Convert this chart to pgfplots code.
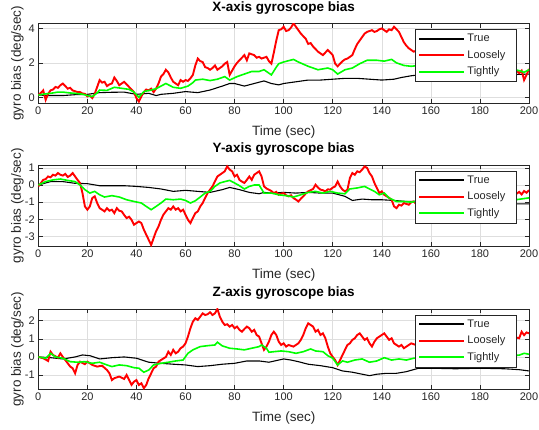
\documentclass[border=0pt]{standalone}
\usepackage{pgfplots}
\pgfplotsset{compat=1.18}
\usepackage{pgfplotstable}
\usepackage{fontspec}
\setmainfont{Liberation Sans}

\definecolor{axgray}{RGB}{38,38,38}
\definecolor{gridgray}{RGB}{222,222,222}
\definecolor{mred}{RGB}{255,0,0}
\definecolor{mgreen}{RGB}{0,255,0}

% ---------------- X axis ----------------
\pgfplotstableread{
t v
0 0.13
1 0.25
2 0.40
3 -0.15
4 0.20
5 0.40
6 0.45
7 0.60
8 0.55
9 0.70
10 0.80
11 0.65
12 0.50
13 0.55
14 0.40
15 0.35
16 0.30
17 0.30
18 0.22
19 0.20
20 0.05
21 0.10
22 -0.05
23 0.20
24 0.60
25 1.00
26 0.85
27 0.90
28 0.65
29 0.75
30 0.80
31 1.15
32 0.95
33 0.70
34 0.80
35 0.90
36 0.75
37 0.60
38 0.45
39 0.30
40 -0.05
41 -0.25
42 0.05
43 0.30
44 0.45
45 0.40
46 0.50
47 0.30
48 0.50
49 0.80
50 1.20
51 1.35
52 1.60
53 1.45
54 1.15
55 0.90
56 0.80
57 0.70
58 1.00
59 0.90
60 1.00
61 0.95
62 1.10
63 1.30
64 1.85
65 2.25
66 2.10
67 2.05
68 1.75
69 1.70
70 1.60
71 1.70
72 1.85
73 1.60
74 1.70
75 1.80
76 1.95
77 2.05
78 1.30
79 1.55
80 1.80
81 2.00
82 2.15
83 2.30
84 2.45
85 2.15
86 2.55
87 2.50
88 2.45
89 2.30
90 2.35
91 2.25
92 2.30
93 2.35
94 2.10
95 1.95
96 2.60
97 3.30
98 3.90
99 3.95
100 4.10
101 3.85
102 3.90
103 4.05
104 4.30
105 4.10
106 3.90
107 3.70
108 3.55
109 3.40
110 3.10
111 3.15
112 2.95
113 2.80
114 2.65
115 2.55
116 2.45
117 2.60
118 2.75
119 2.60
120 2.45
121 1.95
122 1.80
123 1.95
124 2.10
125 2.20
126 2.25
127 2.35
128 2.45
129 2.80
130 3.10
131 3.30
132 3.50
133 3.70
134 3.80
135 3.85
136 3.90
137 3.80
138 3.85
139 3.95
140 4.00
141 3.90
142 3.80
143 3.95
144 3.90
145 4.10
146 3.95
147 3.80
148 3.50
149 3.20
150 3.00
151 2.85
152 2.75
153 2.65
154 2.70
155 2.75
158 2.90
161 2.60
164 3.00
167 2.70
170 2.40
174 2.70
178 2.30
182 2.50
186 2.00
190 1.80
193 1.60
195 1.55
196 1.40
197 1.55
198 1.00
199 1.30
200 1.65
}\xloose

\pgfplotstableread{
t v
0 0.13
2 0.18
5 0.23
8 0.30
10 0.30
13 0.25
15 0.23
18 0.18
20 0.10
22 0.04
24 0.25
25 0.42
28 0.40
31 0.58
34 0.52
37 0.46
39 0.30
41 0.00
43 0.33
46 0.42
48 0.50
50 0.65
52 0.80
55 0.58
58 0.52
61 0.65
63 0.85
64 1.00
67 1.05
70 0.97
73 1.05
76 1.20
78 1.00
81 1.20
84 1.35
87 1.50
90 1.50
92 1.60
95 1.30
97 1.75
98 1.95
100 2.05
104 2.20
106 2.05
110 1.80
114 1.60
118 1.70
120 1.60
122 1.35
125 1.60
128 1.70
131 1.95
134 2.15
138 2.15
141 2.10
144 2.20
146 2.00
149 1.85
152 1.80
155 1.85
160 1.95
165 2.05
170 1.90
175 1.95
180 1.80
185 1.75
190 1.65
194 1.60
196 1.55
198 1.45
200 1.60
}\xtight

\pgfplotstableread{
t v
0 0.13
5 0.10
10 0.10
15 0.15
20 0.17
25 0.27
30 0.29
35 0.30
40 0.17
45 0.23
48 0.10
50 0.17
55 0.23
60 0.33
65 0.27
70 0.42
75 0.65
78 0.80
80 0.80
84 0.65
88 0.80
92 0.95
95 0.80
98 0.72
100 0.80
105 0.90
110 1.00
115 1.00
120 1.05
125 1.10
130 1.10
135 1.05
140 1.00
145 1.05
148 1.15
152 1.25
155 1.30
160 1.25
170 1.30
180 1.35
190 1.30
200 1.35
}\xtrue

% ---------------- Y axis ----------------
\pgfplotstableread{
t v
0 -0.08
1 0.10
2 0.30
3 0.35
4 0.50
5 0.45
6 0.60
7 0.55
8 0.70
9 0.60
10 0.55
11 0.65
12 0.47
13 0.55
14 0.70
15 0.50
16 0.30
17 0.12
18 -0.47
19 -1.25
20 -1.44
21 -1.25
22 -0.76
23 -0.66
24 -1.05
25 -1.35
26 -1.44
27 -1.54
28 -1.35
29 -1.50
30 -1.44
31 -1.64
32 -1.35
33 -1.50
34 -1.54
35 -1.75
36 -1.93
37 -1.85
38 -2.03
39 -2.32
40 -2.22
41 -2.13
42 -2.22
43 -2.60
44 -2.90
45 -3.20
46 -3.50
47 -3.10
48 -2.70
49 -2.42
50 -2.03
51 -1.73
52 -1.54
53 -1.35
54 -1.44
55 -1.25
56 -1.44
57 -1.35
58 -1.54
59 -1.44
60 -1.73
61 -2.03
62 -2.22
63 -1.93
64 -1.64
65 -1.54
66 -1.25
67 -1.05
68 -0.76
69 -0.47
70 -0.27
71 -0.08
72 0.21
73 0.50
74 0.60
75 0.70
76 0.80
77 1.09
78 0.90
79 0.80
80 0.50
81 0.60
82 0.30
83 0.20
84 0.12
85 0.30
86 0.50
87 0.30
88 0.60
89 0.70
90 0.80
91 0.50
92 -0.08
93 -0.20
94 -0.27
95 -0.35
96 -0.47
97 -0.40
98 -0.57
99 -0.50
100 -0.47
101 -0.60
102 -0.66
103 -0.60
104 -0.76
105 -0.85
106 -0.96
107 -0.80
108 -0.66
109 -0.50
110 -0.37
111 -0.30
112 -0.23
113 0.02
114 -0.15
115 -0.27
116 -0.30
117 -0.37
118 -0.25
119 -0.27
120 -0.15
121 -0.08
122 0.21
123 -0.08
124 -0.27
125 -0.37
126 -0.27
127 0.41
128 0.70
129 0.60
130 0.80
131 0.75
132 0.90
133 1.09
134 1.00
135 0.70
136 0.50
137 0.12
138 -0.17
139 -0.47
140 -0.37
141 -0.57
142 -0.66
143 -0.75
144 -0.86
145 -1.25
146 -1.35
147 -1.15
148 -1.20
149 -1.05
150 -1.10
151 -1.15
152 -1.00
153 -0.96
154 -1.10
155 -1.05
157 -1.00
160 -0.90
164 -1.10
168 -0.80
172 -0.90
176 -1.20
180 -1.00
184 -0.80
188 -0.90
192 -0.70
195 -0.50
196 -0.40
197 -0.55
198 -0.35
199 -0.45
200 -0.30
}\yloose

\pgfplotstableread{
t v
0 0.00
3 0.20
6 0.30
9 0.35
12 0.27
15 0.20
17 0.00
19 -0.27
21 -0.47
23 -0.37
25 -0.57
27 -0.70
30 -0.62
33 -0.70
36 -0.86
39 -0.96
42 -1.05
44 -1.25
46 -1.44
48 -1.25
50 -1.05
52 -0.82
55 -0.86
58 -0.82
60 -0.90
62 -1.05
64 -0.92
66 -0.70
68 -0.47
70 -0.37
72 -0.08
74 0.12
76 0.20
78 0.27
80 0.12
82 -0.04
84 -0.23
86 -0.08
88 0.00
90 0.00
92 -0.47
95 -0.47
98 -0.57
101 -0.62
104 -0.70
107 -0.57
110 -0.43
113 -0.37
116 -0.47
119 -0.37
122 -0.47
125 -0.51
127 -0.23
130 -0.17
133 -0.08
135 -0.23
137 -0.37
139 -0.57
141 -0.47
143 -0.76
146 -0.96
149 -0.96
152 -1.00
155 -0.92
160 -0.95
170 -1.00
180 -0.95
190 -0.90
195 -0.85
200 -0.75
}\ytight

\pgfplotstableread{
t v
0 0.00
5 0.20
10 0.20
15 0.10
20 0.08
25 -0.04
30 -0.04
35 -0.04
40 -0.08
45 -0.14
50 -0.23
55 -0.37
60 -0.31
65 -0.37
70 -0.43
75 -0.27
78 -0.14
82 -0.27
86 -0.43
90 -0.51
92 -0.43
95 -0.47
100 -0.43
105 -0.47
110 -0.43
115 -0.47
120 -0.47
125 -0.66
128 -0.90
132 -0.82
136 -0.86
140 -0.86
145 -0.90
150 -0.96
155 -0.96
160 -0.98
170 -1.00
180 -1.05
190 -1.10
200 -1.10
}\ytrue

% ---------------- Z axis ----------------
\pgfplotstableread{
t v
0 0.00
2 -0.07
4 -0.22
5 0.29
6 0.11
8 -0.04
9 0.20
10 0.00
11 -0.17
13 -0.53
14 -0.62
15 -0.90
16 -0.44
17 -0.26
19 -0.40
20 -0.26
22 -0.44
24 -0.53
26 -0.48
28 -0.72
29 -0.90
30 -1.27
31 -1.17
33 -1.08
35 -1.21
36 -0.99
37 -1.27
38 -1.54
39 -1.36
40 -1.27
41 -1.54
42 -1.45
43 -1.72
44 -1.54
45 -1.17
46 -0.90
47 -0.62
48 -0.53
49 -0.26
50 -0.17
52 0.00
53 0.29
54 0.11
55 0.39
56 0.20
57 0.29
58 0.48
59 0.57
60 0.75
61 1.12
62 1.58
63 1.94
64 2.13
65 2.04
66 2.22
67 2.40
68 2.31
69 2.35
70 2.46
71 2.31
72 2.40
73 2.64
74 2.22
75 1.94
76 1.76
77 1.80
78 1.67
79 1.76
80 1.58
81 1.67
82 1.49
83 1.39
84 1.54
85 1.67
86 1.58
87 1.39
88 1.49
89 1.21
90 1.12
91 0.75
92 0.39
93 0.57
94 0.84
95 1.21
96 1.39
97 1.21
98 0.84
99 0.66
100 0.75
101 0.57
102 0.66
104 0.57
106 0.75
107 0.94
108 1.21
109 1.58
110 1.85
111 1.76
112 1.67
113 1.39
114 1.49
115 1.21
116 1.30
117 1.03
118 0.57
119 0.20
120 0.00
121 -0.17
122 -0.44
123 -0.17
124 0.11
125 0.39
126 0.66
127 0.75
128 0.94
129 1.03
130 1.21
131 1.30
132 1.12
133 0.94
134 1.03
135 0.75
136 0.57
137 0.84
138 1.03
139 1.12
140 1.21
141 1.30
142 1.12
143 0.94
144 1.03
145 0.75
146 0.66
147 0.57
148 0.66
149 0.48
150 0.57
152 0.75
154 0.66
155 0.57
158 0.80
162 1.00
166 0.70
170 0.90
174 1.10
178 0.80
182 0.90
186 0.70
190 0.90
194 1.10
196 1.03
197 1.39
198 1.20
199 1.35
200 1.30
}\zloose

\pgfplotstableread{
t v
0 0.00
3 -0.07
5 0.20
7 0.00
10 -0.07
13 -0.26
16 -0.29
19 -0.26
22 -0.35
25 -0.29
28 -0.44
30 -0.53
33 -0.44
36 -0.48
39 -0.59
41 -0.62
43 -0.84
45 -0.72
47 -0.44
50 -0.35
53 -0.29
56 -0.22
59 -0.17
61 0.20
63 0.39
66 0.57
69 0.62
72 0.66
73 0.81
75 0.61
78 0.48
81 0.44
84 0.39
87 0.48
90 0.57
91 0.66
93 0.48
94 0.26
96 0.29
99 0.33
102 0.29
105 0.20
108 0.29
111 0.44
113 0.33
116 0.29
118 0.07
120 -0.07
122 -0.44
124 -0.22
126 -0.29
129 -0.17
132 -0.11
135 -0.29
138 -0.22
141 -0.04
144 -0.17
147 -0.11
150 -0.17
153 -0.07
156 -0.04
160 0.00
170 0.05
180 0.00
190 0.05
196 0.10
198 0.20
200 0.15
}\ztight

\pgfplotstableread{
t v
0 0.00
5 -0.04
10 -0.11
15 0.00
18 0.11
21 0.07
25 -0.11
30 -0.04
35 0.00
40 -0.07
45 -0.29
50 -0.35
55 -0.40
60 -0.44
65 -0.53
70 -0.48
75 -0.40
80 -0.35
85 -0.22
90 -0.22
94 -0.29
98 -0.17
100 -0.11
103 -0.17
106 -0.26
110 -0.40
115 -0.48
120 -0.59
124 -0.77
128 -0.84
132 -0.95
135 -1.03
138 -0.95
142 -0.90
146 -0.90
150 -0.81
155 -0.62
160 -0.62
170 -0.65
180 -0.62
190 -0.65
196 -0.70
200 -0.77
}\ztrue

\pgfplotsset{
  biasplot/.style={
    scale only axis, width=490.7pt, anchor=south west,
    xmin=0, xmax=200, xtick={0,20,...,200},
    grid=major, major grid style={gridgray, line width=0.5pt},
    axis line style={axgray, line width=0.5pt},
    tick style={axgray, line width=0.5pt},
    major tick length=4.5pt,
    tick label style={font=\fontsize{11}{13}\selectfont, text=axgray},
    /pgf/number format/assume math mode=true,
    xlabel={Time (sec)}, ylabel={gyro bias (deg/sec)},
    xlabel style={font=\fontsize{13.5}{15}\selectfont, text=axgray,
      at={([yshift=-28.5pt]rel axis cs:0.5,0)}, anchor=center},
    ylabel style={font=\fontsize{13.5}{15}\selectfont, text=axgray,
      at={([xshift=-21pt]rel axis cs:0,0.5)}, anchor=center},
    title style={font=\bfseries\fontsize{13.5}{15}\selectfont, text=black,
      at={([yshift=6pt]rel axis cs:0.5,1)}, anchor=base},
    legend cell align=left,
    legend style={at={(rel axis cs:1,1)}, anchor=north east,
      xshift=-12.3pt, yshift=-5.7pt, draw=axgray, line width=0.5pt,
      fill=white, font=\fontsize{11}{13}\selectfont, text=axgray,
      row sep=3pt, inner ysep=3pt},
    legend image code/.code={\draw[##1, line width=2pt] (0pt,0pt) -- (45pt,0pt);},
  },
  truth/.style={black, line width=1.1pt},
  loose/.style={mred, line width=1.9pt},
  tight/.style={mgreen, line width=1.6pt},
}

\newcommand{\biaslegend}{\legend{\makebox[44pt][l]{True},\makebox[44pt][l]{Loosely},\makebox[44pt][l]{Tightly}}}

\begin{document}
\begin{tikzpicture}
\useasboundingbox (0,0) rectangle (539pt,430pt);

\begin{axis}[biasplot, at={(38.3pt,326.7pt)}, height=80pt,
  ymin=-0.35, ymax=4.3, ytick={0,2,4},
  title={X-axis gyroscope bias}]
  \addplot[truth] table[x=t,y=v] {\xtrue};
  \addplot[loose] table[x=t,y=v] {\xloose};
  \addplot[tight] table[x=t,y=v] {\xtight};
  \biaslegend
\end{axis}

\begin{axis}[biasplot, at={(38.3pt,183.3pt)}, height=81.7pt,
  ymin=-3.6, ymax=1.17, ytick={-3,-2,-1,0,1},
  title={Y-axis gyroscope bias}]
  \addplot[truth] table[x=t,y=v] {\ytrue};
  \addplot[loose] table[x=t,y=v] {\yloose};
  \addplot[tight] table[x=t,y=v] {\ytight};
  \biaslegend
\end{axis}

\begin{axis}[biasplot, at={(38.3pt,40.7pt)}, height=80.3pt,
  ymin=-1.78, ymax=2.64, ytick={-1,0,1,2},
  title={Z-axis gyroscope bias}]
  \addplot[truth] table[x=t,y=v] {\ztrue};
  \addplot[loose] table[x=t,y=v] {\zloose};
  \addplot[tight] table[x=t,y=v] {\ztight};
  \biaslegend
\end{axis}
\end{tikzpicture}
\end{document}
